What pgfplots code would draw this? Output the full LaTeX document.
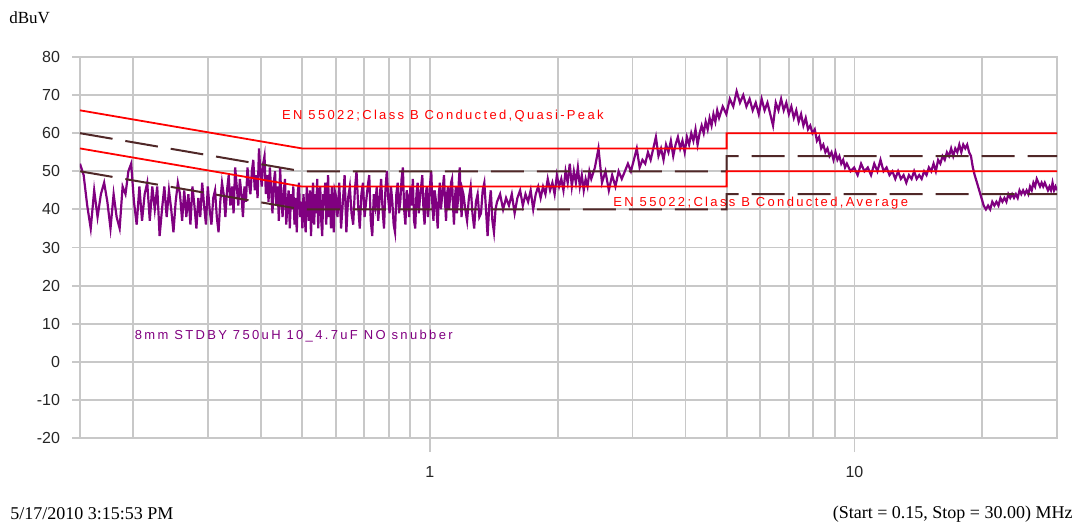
\documentclass[border=0pt]{standalone}
\usepackage{fontspec}
\setmainfont{Liberation Serif}
\newfontfamily\ar{Liberation Sans}
\newfontfamily\arsp[LetterSpace=18]{Liberation Sans}
\usepackage{pgfplots}
\usepackage{pgfplotstable}
\pgfplotsset{compat=1.18}
\definecolor{trace}{RGB}{128,0,128}
\definecolor{lim}{RGB}{255,0,0}
\definecolor{dlim}{RGB}{80,40,40}
\definecolor{gridc}{RGB}{200,200,200}

\pgfplotstableread{
f y
0.150 52
0.153 49
0.156 41
0.159 35
0.162 45
0.165 38
0.168 44
0.171 47
0.174 42
0.177 35
0.180 44
0.183 38
0.186 35
0.189 46
0.192 44
0.195 50
0.198 52
0.201 42
0.204 36
0.207 46
0.210 37
0.213 44
0.216 47
0.219 37
0.222 46
0.225 40
0.228 46
0.231 33
0.234 40
0.237 46
0.240 38
0.243 45
0.246 40
0.249 34
0.252 42
0.255 47
0.258 44
0.261 37
0.264 45
0.267 38
0.270 44
0.273 36
0.276 46
0.279 41
0.282 35
0.285 43
0.288 38
0.291 47
0.294 41
0.297 36
0.300 46
0.303 40
0.306 36
0.309 43
0.312 45
0.315 38
0.318 34
0.321 42
0.324 47
0.327 44
0.330 38
0.333 45
0.336 49
0.339 41
0.342 46
0.345 39
0.348 51
0.351 46
0.354 41
0.357 48
0.360 44
0.363 38
0.366 46
0.369 42
0.372 51
0.375 47
0.378 44
0.381 50
0.384 53
0.387 45
0.390 49
0.393 43
0.396 56
0.399 50
0.402 46
0.405 52
0.408 54
0.411 44
0.414 49
0.417 42
0.420 51
0.423 45
0.426 39
0.429 47
0.432 50
0.435 41
0.438 46
0.441 37
0.444 51
0.447 43
0.450 38
0.453 45
0.456 48
0.459 36
0.462 41
0.465 45
0.468 35
0.471 44
0.474 40
0.477 46
0.480 36
0.483 43
0.486 34
0.489 45
0.492 47
0.495 38
0.498 42
0.501 35
0.504 44
0.507 39
0.510 34
0.513 46
0.516 41
0.519 37
0.522 45
0.525 33
0.528 42
0.531 47
0.534 36
0.537 44
0.540 39
0.543 48
0.546 35
0.549 43
0.552 46
0.555 37
0.558 33
0.561 44
0.564 41
0.567 47
0.570 36
0.573 42
0.576 49
0.579 38
0.582 44
0.585 35
0.588 46
0.591 40
0.594 34
0.597 45
0.600 44
0.606 38
0.612 47
0.618 35
0.624 42
0.630 49
0.636 34
0.642 43
0.648 46
0.654 39
0.660 36
0.666 45
0.672 50
0.678 41
0.684 35
0.690 44
0.696 47
0.702 38
0.708 42
0.714 46
0.720 49
0.726 37
0.732 33
0.738 44
0.744 41
0.750 46
0.756 37
0.762 43
0.768 48
0.774 40
0.780 35
0.786 45
0.792 50
0.798 43
0.804 39
0.810 46
0.816 42
0.822 36
0.828 34
0.834 44
0.840 47
0.846 39
0.852 42
0.858 48
0.864 51
0.870 40
0.876 36
0.882 45
0.888 43
0.894 38
0.900 46
0.906 41
0.912 48
0.918 37
0.924 35
0.930 44
0.936 47
0.942 39
0.948 43
0.954 46
0.960 49
0.966 40
0.972 36
0.978 44
0.984 46
0.990 38
0.996 42
1.002 47
1.008 50
1.014 41
1.020 37
1.026 45
1.032 43
1.038 39
1.044 35
1.050 44
1.056 47
1.062 40
1.068 43
1.074 46
1.080 49
1.086 42
1.092 37
1.098 44
1.104 46
1.110 40
1.116 43
1.122 47
1.128 48
1.134 41
1.140 36
1.146 43
1.152 46
1.158 39
1.164 42
1.170 47
1.176 51
1.182 43
1.188 38
1.194 45
1.200 44
1.212 40
1.224 37
1.236 43
1.248 46
1.260 39
1.272 35
1.284 42
1.296 44
1.308 38
1.320 39
1.332 45
1.344 47
1.356 40
1.368 33
1.380 41
1.392 45
1.404 37
1.416 34
1.428 40
1.440 42
1.464 44
1.488 40
1.512 43
1.536 41
1.560 44
1.584 39
1.608 43
1.632 45
1.656 41
1.680 44
1.704 42
1.728 45
1.752 40
1.776 44
1.800 46
1.824 43
1.848 46
1.872 44
1.896 48
1.920 45
1.944 47
1.968 44
1.992 49
2.016 46
2.040 48
2.064 45
2.088 50
2.112 47
2.136 52
2.160 46
2.184 50
2.208 47
2.232 51
2.256 46
2.280 49
2.304 45
2.328 48
2.352 46
2.376 50
2.400 48
2.448 51
2.496 56
2.544 47
2.592 50
2.640 45
2.688 49
2.736 46
2.784 50
2.832 48
2.880 50
2.928 52
2.976 50
3.024 53
3.072 56
3.120 51
3.168 53
3.216 52
3.264 55
3.312 53
3.360 56
3.408 59
3.456 54
3.504 56
3.552 53
3.600 57
3.648 55
3.696 58
3.744 54
3.792 57
3.840 59
3.888 56
3.936 58
3.984 55
4.032 59
4.080 57
4.128 60
4.176 58
4.224 61
4.272 57
4.320 60
4.368 62
4.416 60
4.464 63
4.512 61
4.560 64
4.608 62
4.656 65
4.704 63
4.752 66
4.800 64
4.896 67
4.992 65
5.088 69
5.184 67
5.280 71
5.376 68
5.472 70
5.568 67
5.664 69
5.760 66
5.856 68
5.952 65
6.048 69
6.144 66
6.240 68
6.336 65
6.432 62
6.528 68
6.624 66
6.720 69
6.816 66
6.912 68
7.008 65
7.104 67
7.200 64
7.296 66
7.392 63
7.488 65
7.584 62
7.680 64
7.776 61
7.872 62
7.968 60
8.064 61
8.160 58
8.256 59
8.352 56
8.448 57
8.544 55
8.640 56
8.736 54
8.832 55
8.928 53
9.024 55
9.120 53
9.216 54
9.312 52
9.408 53
9.504 51
9.600 52
9.792 50
9.984 51
10.176 49
10.368 52
10.560 50
10.752 51
10.944 49
11.136 52
11.328 50
11.520 53
11.712 50
11.904 51
12.096 49
12.288 50
12.480 48
12.672 50
12.864 48
13.056 49
13.248 47
13.440 49
13.632 48
13.824 50
14.016 48
14.208 49
14.400 48
14.592 50
14.784 49
14.976 51
15.168 50
15.360 52
15.552 50
15.744 53
15.936 52
16.128 54
16.320 53
16.512 55
16.704 54
16.896 56
17.088 54
17.280 56
17.472 55
17.664 57
17.856 55
18.048 57
18.240 56
18.432 57
18.624 55
18.816 54
19.008 51
19.200 49
19.440 47
19.680 45
19.920 43
20.160 41
20.400 40
20.640 41
20.880 40
21.120 42
21.360 41
21.600 42
21.840 41
22.080 43
22.320 42
22.560 43
22.800 42
23.040 44
23.280 43
23.520 44
23.760 43
24.000 44
24.240 43
24.480 45
24.720 44
24.960 45
25.200 44
25.440 45
25.680 44
25.920 46
26.160 45
26.400 47
26.640 46
26.880 48
27.120 47
27.360 46
27.600 47
27.840 46
28.080 47
28.320 46
28.560 45
28.800 46
29.040 45
29.280 47
29.520 45
29.760 46
30.000 45
}\trace

\begin{document}
\begin{tikzpicture}
\begin{axis}[
  at={(0,0)}, anchor=south west,
  scale only axis, width=488.5pt, height=190.5pt,
  xmode=log, log basis x=10,
  xmin=0.15, xmax=30, ymin=-20, ymax=80,
  xtick={1,10}, xticklabels={1,10},
  minor xtick={0.2,0.3,0.4,0.5,0.6,0.7,0.8,0.9,2,3,4,5,6,7,8,9,20,30},
  ytick={-20,-10,0,10,20,30,40,50,60,70,80},
  yticklabels={-20,-10,0,10,20,30,40,50,60,70,80},
  grid=both,
  grid style={gridc, line width=0.9pt},
  minor grid style={gridc, line width=0.9pt},
  major grid style={gridc, line width=0.9pt},
  axis line style={gridc, line width=0.9pt},
  tick style={gridc, line width=0.9pt},
  tick align=outside,
  xtick pos=bottom, ytick pos=left,
  major tick length=4pt, minor tick length=0pt,
  xtick style={/pgfplots/major tick length=7pt},
  ticklabel style={font=\ar\fontsize{8}{9}\selectfont, text=black!85},
  xticklabel style={yshift=-6.5pt},
  yticklabel style={xshift=-2.5pt},
  clip=true,
]
\addplot[trace, line width=1.1pt] table[x=f, y=y] {\trace};
% Average limits (dashed 6 dB below)
\addplot[dlim, line width=1pt, dash pattern=on 16.5pt off 6.5pt] coordinates {(0.15,50) (0.5,40) (5,40) (5,44) (30,44)};
\addplot[dlim, line width=1pt, dash pattern=on 16.5pt off 6.5pt] coordinates {(0.15,60) (0.5,50) (5,50) (5,54) (30,54)};
% Limits
\addplot[lim, line width=0.9pt] coordinates {(0.15,66) (0.5,56) (5,56) (5,60) (30,60)};
\addplot[lim, line width=0.9pt] coordinates {(0.15,56) (0.5,46) (5,46) (5,50) (30,50)};
\node[anchor=west, inner sep=0pt, text=lim, font=\arsp\fontsize{6.5}{7}\selectfont] at (axis cs:0.448,64.5) {EN 55022;Class B Conducted,Quasi-Peak};
\node[anchor=west, inner sep=0pt, text=lim, font=\arsp\fontsize{6.5}{7}\selectfont] at (axis cs:2.70,41.7) {EN 55022;Class B Conducted,Average};
\node[anchor=west, inner sep=0pt, text=trace, font=\arsp\fontsize{6.5}{7}\selectfont] at (axis cs:0.2015,6.8) {8mm STDBY 750uH 10\_4.7uF NO snubber};
\end{axis}
\node[anchor=west, inner sep=0pt, font=\fontsize{8.5}{9}\selectfont] at (-35.5pt,210pt) {dBuV};
\node[anchor=west, inner sep=0pt, font=\fontsize{9}{10}\selectfont] at (-35pt,-38pt) {5/17/2010 3:15:53 PM};
\node[anchor=east, inner sep=0pt, font=\fontsize{9}{10}\selectfont] at (496.5pt,-38pt) {(Start = 0.15, Stop = 30.00) MHz};
\pgfresetboundingbox
\path[use as bounding box] (-40pt,-44pt) rectangle (502.5pt,219pt);
\end{tikzpicture}
\end{document}
